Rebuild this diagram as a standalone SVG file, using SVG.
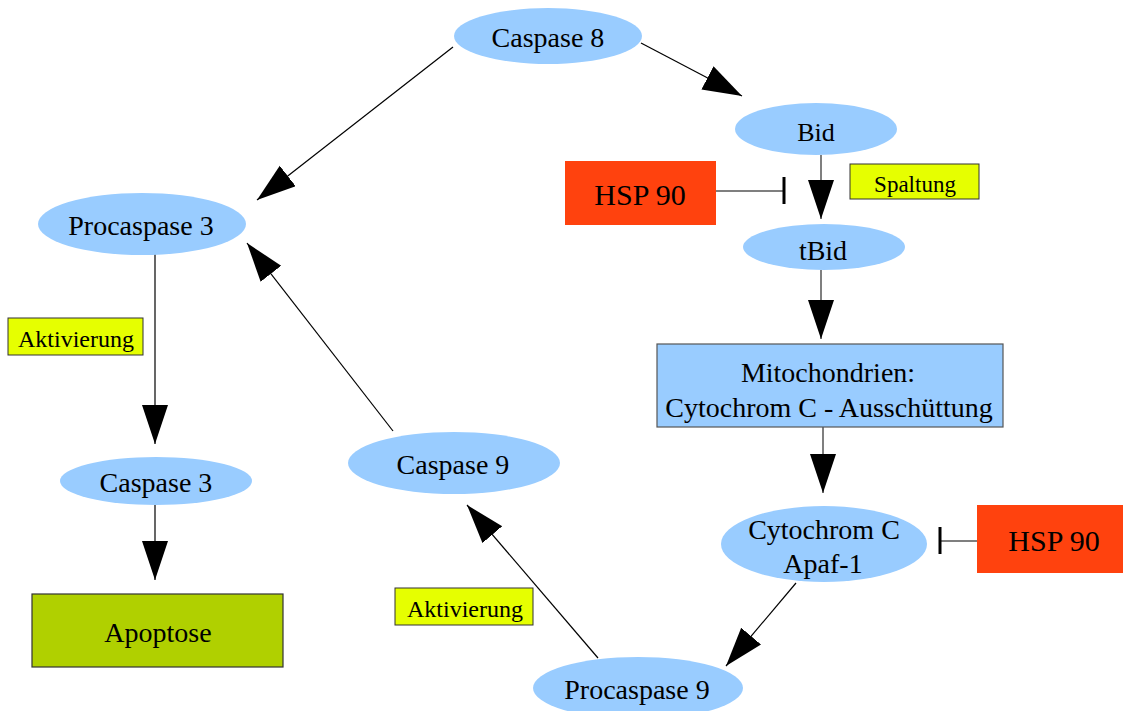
<svg xmlns="http://www.w3.org/2000/svg" width="1123" height="711" viewBox="0 0 1123 711">
<style>
.el{fill:#99ccff}
.t{font-family:"Liberation Serif","Times New Roman",serif;font-size:28px;fill:#000;text-anchor:middle}
.s{font-size:24px}
.h{font-size:30px}
.lab{fill:#e6ff00;stroke:#333;stroke-width:1}
.hsp{fill:#ff420e}
.c{stroke:#000;stroke-width:1.2;fill:none;marker-end:url(#ah)}
.g{stroke:#555;stroke-width:1.5;fill:none}
.bar{stroke:#000;stroke-width:3}
</style>
<defs>
<marker id="ah" markerUnits="userSpaceOnUse" markerWidth="40" markerHeight="27" refX="39" refY="13" orient="auto">
<path d="M0,0 L39,13 L0,26 Z" fill="#000"/>
</marker>
</defs>
<rect width="1123" height="711" fill="#fff"/>
<g id="connectors">
<line class="c" x1="641" y1="43" x2="742" y2="96"/>
<line class="c" x1="453" y1="47" x2="257" y2="200"/>
<line class="c g" x1="821" y1="155" x2="821" y2="219" style="marker-end:url(#ah)"/>
<line class="c g" x1="821" y1="270" x2="821" y2="339" style="marker-end:url(#ah)"/>
<line class="c g" x1="823" y1="427" x2="823" y2="493" style="marker-end:url(#ah)"/>
<line class="c" x1="796" y1="583" x2="726" y2="666"/>
<line class="c" x1="598" y1="658" x2="467" y2="505"/>
<line class="c" x1="393" y1="431" x2="247" y2="243"/>
<line class="c" x1="155" y1="254" x2="155" y2="444"/>
<line class="c" x1="155" y1="505" x2="155" y2="580"/>
<line class="g" x1="716" y1="191" x2="784" y2="191"/>
<line class="bar" x1="784" y1="177" x2="784" y2="204"/>
<line class="g" x1="977" y1="541" x2="940" y2="541"/>
<line class="bar" x1="940" y1="527" x2="940" y2="554"/>
</g>
<g id="caspase8">
<ellipse class="el" cx="548" cy="36" rx="94" ry="28"/>
<text class="t" x="548" y="47">Caspase 8</text>
</g>
<g id="bid">
<ellipse class="el" cx="816" cy="129" rx="81" ry="26"/>
<text class="t" x="816" y="141" style="font-size:26px">Bid</text>
</g>
<g id="hsp90a">
<rect class="hsp" x="565" y="161" width="151" height="64"/>
<text class="t h" x="640" y="205">HSP 90</text>
</g>
<g id="spaltung">
<rect class="lab" x="850" y="164" width="129" height="35"/>
<text class="t s" x="915" y="192" style="font-size:23px">Spaltung</text>
</g>
<g id="tbid">
<ellipse class="el" cx="824" cy="247" rx="81" ry="23"/>
<text class="t" x="823" y="260">tBid</text>
</g>
<g id="mito">
<rect x="657" y="344" width="346" height="83" fill="#99ccff" stroke="#555" stroke-width="1.2"/>
<text class="t" x="828" y="382">Mitochondrien:</text>
<text class="t" x="829" y="417">Cytochrom C - Ausschüttung</text>
</g>
<g id="cytochrom">
<ellipse class="el" cx="824" cy="544" rx="103" ry="38"/>
<text class="t" x="824" y="539">Cytochrom C</text>
<text class="t" x="823" y="573">Apaf-1</text>
</g>
<g id="hsp90b">
<rect class="hsp" x="977" y="505" width="146" height="68"/>
<text class="t h" x="1054" y="551">HSP 90</text>
</g>
<g id="procaspase9">
<ellipse class="el" cx="638" cy="688" rx="105" ry="31"/>
<text class="t" x="637" y="699">Procaspase 9</text>
</g>
<g id="aktivierung2">
<rect class="lab" x="395" y="588" width="138" height="37"/>
<text class="t s" x="465" y="617">Aktivierung</text>
</g>
<g id="caspase9">
<ellipse class="el" cx="454" cy="463" rx="106" ry="31"/>
<text class="t" x="453" y="474">Caspase 9</text>
</g>
<g id="procaspase3">
<ellipse class="el" cx="142" cy="224" rx="104" ry="31"/>
<text class="t" x="141" y="235">Procaspase 3</text>
</g>
<g id="aktivierung1">
<rect class="lab" x="8" y="318" width="135" height="37"/>
<text class="t s" x="76" y="347">Aktivierung</text>
</g>
<g id="caspase3">
<ellipse class="el" cx="156" cy="481" rx="96" ry="24"/>
<text class="t" x="156" y="492">Caspase 3</text>
</g>
<g id="apoptose">
<rect x="32" y="594" width="251" height="73" fill="#b0d000" stroke="#333" stroke-width="1.2"/>
<text class="t" x="158" y="642">Apoptose</text>
</g>
</svg>
